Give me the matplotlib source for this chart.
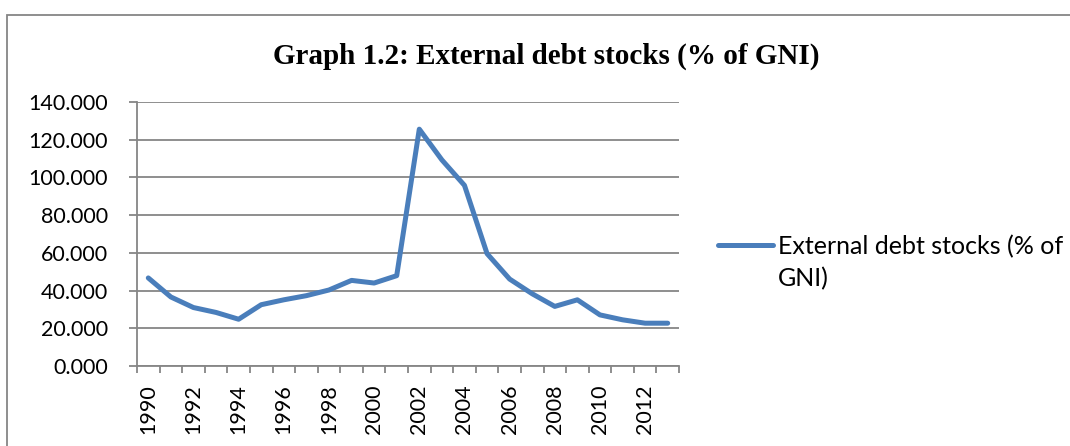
import matplotlib
matplotlib.use("Agg")
import matplotlib.pyplot as plt
from matplotlib.patches import Rectangle
import numpy as np

years = list(range(1990, 2014))
debt = [46.7, 36.6, 31.0, 28.4, 24.8, 32.5, 35.1, 37.3, 40.3, 45.4, 44.0, 47.9,
        125.6, 109.3, 95.8, 59.6, 46.1, 38.3, 31.6, 35.1, 27.1, 24.5, 22.7, 22.7]
series_name = "External debt stocks (% of\nGNI)"
title = "Graph 1.2: External debt stocks (% of GNI)"
yticks = [0, 20, 40, 60, 80, 100, 120, 140]

plt.rcParams['font.family'] = ['Lato', 'DejaVu Sans']
grey = '#868686'
blue = '#4A7EBB'

fig = plt.figure(figsize=(10.70, 4.46), dpi=100)
ax = fig.add_axes([137/1070, 1 - 366/446, (679 - 137)/1070, (366 - 102)/446])

x = np.arange(len(years))
ax.plot(x, debt, color=blue, lw=3.6, solid_joinstyle='round', solid_capstyle='round',
        label=series_name, zorder=3)

ax.set_xlim(-0.5, len(years) - 0.5)
ax.set_ylim(0, 140)
ax.set_yticks(yticks)
ax.set_yticklabels([f"{v:.3f}" for v in yticks])
ax.yaxis.grid(True, color=grey, lw=1.3)
ax.set_axisbelow(True)

ax.set_xticks(np.arange(-0.5, len(years), 1))
ax.set_xticklabels([])
ax.set_xticks(x[::2], minor=True)
ax.set_xticklabels([str(y) for y in years[::2]], minor=True, rotation=90)
ax.tick_params(axis='x', which='major', length=5, color=grey, width=1.3, direction='out')
ax.tick_params(axis='x', which='minor', length=0, pad=13, labelsize=15.5)
ax.tick_params(axis='y', length=6, color=grey, width=1.3, pad=15, labelsize=15.5)

for s in ['top', 'right']:
    ax.spines[s].set_visible(False)
for s in ['left', 'bottom']:
    ax.spines[s].set_color(grey)
    ax.spines[s].set_linewidth(1.3)

fig.text(546/1070, 1 - 56/446, title, ha='center', va='center',
         family='Liberation Serif', weight='bold', fontsize=21)

leg = fig.legend(loc='upper left', bbox_to_anchor=(718/1070, 1 - 235/446), frameon=False,
                 fontsize=18, handlelength=2.2, handleheight=1.0, handletextpad=0.2,
                 borderaxespad=0, borderpad=0)
for t in leg.get_texts():
    t.set_linespacing(1.45)
try:
    for col in leg._legend_handle_box.get_children():
        for row in col.get_children():
            row.align = 'top'
except Exception:
    pass

fig.patches.append(Rectangle((7/1070, -0.2), 1.2, 1.2 - 15/446,
                             transform=fig.transFigure, fill=False, ec=grey, lw=1.3))

fig.savefig("out.png", dpi=100)
